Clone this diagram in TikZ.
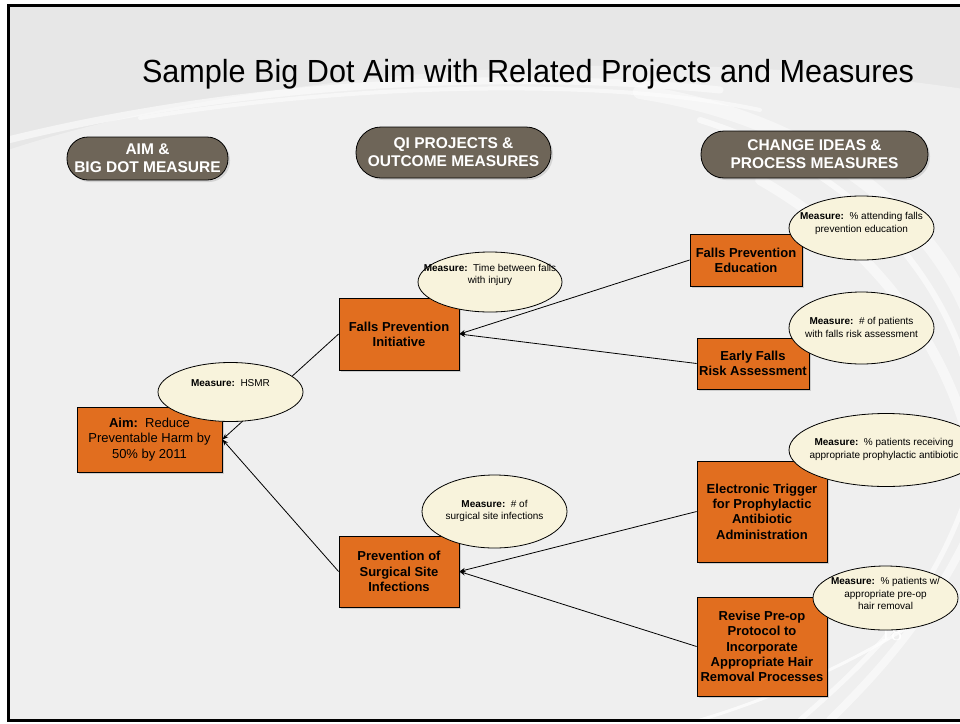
\documentclass[tikz,border=0pt]{standalone}
\usepackage{fontspec}
\setmainfont{Liberation Sans}
\newfontfamily\numfont{Liberation Serif}
\usetikzlibrary{arrows.meta,shapes.geometric,shadows}

\definecolor{slidebg}{HTML}{E7E7E7}
\definecolor{pillfill}{HTML}{6E6558}
\definecolor{boxorange}{HTML}{E16E1F}
\definecolor{cream}{HTML}{F8F3DC}

\tikzset{
  header/.style={draw=black, line width=0.8pt, fill=pillfill, text=white,
    align=center, inner sep=0pt, font=\bfseries\fontsize{15.5}{18}\selectfont,
    drop shadow={shadow xshift=2pt, shadow yshift=-2pt, opacity=0.25}},
  stepbox/.style={draw=black, line width=0.8pt, fill=boxorange, align=center,
    inner sep=0pt, font=\bfseries\fontsize{13}{15.3}\selectfont,
    drop shadow={shadow xshift=2pt, shadow yshift=-2pt, opacity=0.3}},
  measure/.style={ellipse, draw=black, line width=0.8pt, fill=cream, inner sep=0pt},
  measuretext/.style={align=center, inner sep=0pt, font=\fontsize{10}{12.5}\selectfont},
  conn/.style={draw=black, line width=0.8pt, -{Stealth[length=6pt,width=4.5pt]}},
  swoosh/.style={draw=white, line cap=round},
}

\begin{document}
\begin{tikzpicture}[x=1pt, y=-1pt]
  \useasboundingbox (0,0) rectangle (960,723);
  \clip (0,0) rectangle (960,723);

  % slide background
  \fill[white] (0,0) rectangle (960,723);
  \fill[slidebg] (8,5) rectangle (970,720);
  \fill[white, opacity=0.35] (8,150) .. controls (250,70) and (650,40) .. (970,90)
    -- (970,720) -- (8,720) -- cycle;

  % light swooshes behind the diagram
  \draw[swoosh, line width=7pt, opacity=0.55] (8,140) .. controls (250,80) and (520,70) .. (720,90);
  \draw[swoosh, line width=4pt, opacity=0.5] (140,118) .. controls (380,80) and (620,80) .. (760,110);
  \draw[swoosh, line width=14pt, opacity=0.45] (640,92) .. controls (820,120) and (940,220) .. (975,330);
  \draw[swoosh, line width=6pt, opacity=0.6] (700,120) .. controls (860,170) and (950,280) .. (975,400);
  \draw[swoosh, line width=10pt, opacity=0.5] (760,180) .. controls (900,260) and (960,380) .. (975,470);
  \draw[swoosh, line width=5pt, opacity=0.6] (975,470) .. controls (940,590) and (880,650) .. (800,720);
  \draw[swoosh, line width=8pt, opacity=0.5] (975,520) .. controls (930,620) and (870,680) .. (830,720);
  \draw[swoosh, line width=3pt, opacity=0.7] (975,580) .. controls (900,640) and (800,690) .. (700,720);

  % slide frame
  \draw[black, line width=3pt] (975,5) -- (8,5) -- (8,720) -- (975,720);

  % title
  \node[font=\fontsize{32}{36}\selectfont, inner sep=0pt] (title) at (528,74)
    {\scalebox{0.956}[1]{Sample Big Dot Aim with Related Projects and Measures}};

  % column headers
  \node[header, minimum width=161pt, minimum height=43pt, rounded corners=21pt] (h1) at (147.5,158.5)
    {AIM \&\\BIG DOT MEASURE};
  \node[header, minimum width=195pt, minimum height=51pt, rounded corners=25pt] (h2) at (453.5,152.5)
    {QI PROJECTS \&\\OUTCOME MEASURES};
  \node[header, minimum width=227pt, minimum height=47pt, rounded corners=23pt] (h3) at (814.5,154.5)
    {CHANGE IDEAS \&\\PROCESS MEASURES};

  % aim, projects and change ideas
  \node[stepbox, minimum width=145pt, minimum height=65pt, font=\fontsize{13}{15.5}\selectfont] (aim) at (149.5,439.5)
    {\textbf{Aim:}\ \ Reduce\\Preventable Harm by\\50\% by 2011};
  \node[stepbox, minimum width=120pt, minimum height=72pt] (fpi) at (399,334)
    {Falls Prevention\\Initiative};
  \node[stepbox, minimum width=120pt, minimum height=71pt] (ssi) at (399,571.5)
    {Prevention of\\Surgical Site\\Infections};
  \node[stepbox, minimum width=112pt, minimum height=52pt] (fpe) at (746,260)
    {Falls Prevention\\Education};
  \node[stepbox, minimum width=112pt, minimum height=51pt] (efra) at (753,363.5)
    {Early Falls\\Risk Assessment};
  \node[stepbox, minimum width=130pt, minimum height=101pt] (etrig) at (762,511.5)
    {Electronic Trigger\\for Prophylactic\\Antibiotic\\Administration};
  \node[stepbox, minimum width=130pt, minimum height=99pt] (revise) at (762,646.5)
    {Revise Pre-op\\Protocol to\\Incorporate\\Appropriate Hair\\Removal Processes};

  % connectors from change ideas to projects, and projects to the aim
  \draw[conn] (fpe.west) -- (fpi.east);
  \draw[conn] (efra.west) -- (fpi.east);
  \draw[conn] (etrig.west) -- (ssi.east);
  \draw[conn] (revise.west) -- (ssi.east);
  \draw[conn] (fpi.west) -- (aim.east);
  \draw[conn] (ssi.west) -- (aim.east);

  % slide number
  \node[text=white, font=\numfont\fontsize{22}{24}\selectfont, inner sep=0pt] (pageno) at (891,633) {18};

  % measures
  \node[measure, minimum width=145pt, minimum height=59pt] (mhsmr) at (230.5,392) {};
  \node[measuretext] (mhsmrt) at (230.5,383) {\textbf{Measure:}\ \ HSMR};

  \node[measure, minimum width=144pt, minimum height=60pt] (mtime) at (490,282) {};
  \node[measuretext] (mtimet) at (490,275) {\textbf{Measure:}\ \ Time between falls\\with injury};

  \node[measure, minimum width=145pt, minimum height=64pt] (mattend) at (861.5,228) {};
  \node[measuretext] (mattendt) at (861.5,223.5) {\textbf{Measure:}\ \ \% attending falls\\prevention education};

  \node[measure, minimum width=145pt, minimum height=72pt] (mpat) at (861.5,328) {};
  \node[measuretext] (mpatt) at (861.5,327.5) {\textbf{Measure:}\ \ \# of patients\\with falls risk assessment};

  \node[measure, minimum width=194pt, minimum height=73pt] (mabx) at (886,450) {};
  \node[measuretext] (mabxt) at (884,449.5) {\textbf{Measure:}\ \ \% patients receiving\\appropriate prophylactic antibiotic};

  \node[measure, minimum width=145pt, minimum height=73pt] (mssi) at (494.5,511.5) {};
  \node[measuretext] (mssit) at (494.5,511) {\textbf{Measure:}\ \ \# of\\surgical site infections};

  \node[measure, minimum width=145pt, minimum height=64pt] (mhair) at (885.5,598) {};
  \node[measuretext] (mhairt) at (885.5,593.5) {\textbf{Measure:}\ \ \% patients w/\\appropriate pre-op\\hair removal};
\end{tikzpicture}
\end{document}
